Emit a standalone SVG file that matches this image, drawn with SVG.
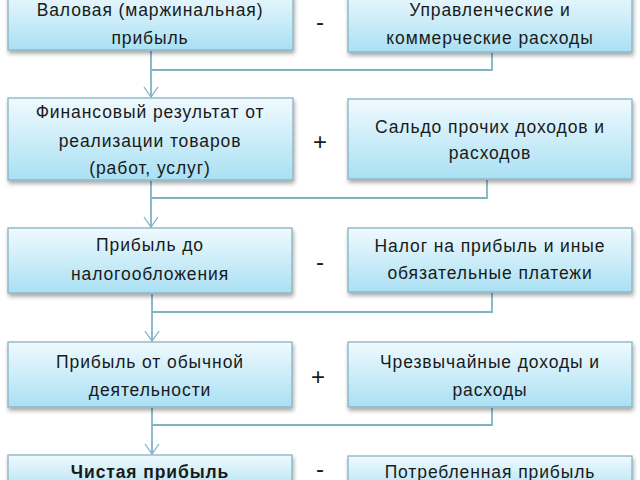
<svg xmlns="http://www.w3.org/2000/svg" width="640" height="480" viewBox="0 0 640 480">
<defs>
<linearGradient id="g" x1="0" y1="0" x2="0" y2="1">
<stop offset="0" stop-color="#f0fafe"/>
<stop offset="1" stop-color="#a9e0f3"/>
</linearGradient>
<filter id="sh" x="-10%" y="-10%" width="120%" height="140%">
<feGaussianBlur in="SourceAlpha" stdDeviation="2"/>
<feOffset dx="1" dy="3" result="b"/>
<feComponentTransfer><feFuncA type="linear" slope="0.35"/></feComponentTransfer>
<feMerge><feMergeNode/><feMergeNode in="SourceGraphic"/></feMerge>
</filter>
<marker id="ah" viewBox="0 0 16 12" refX="8" refY="11" markerWidth="16" markerHeight="12" markerUnits="userSpaceOnUse" orient="0">
<path d="M1,1 L8,11 L15,1" fill="none" stroke="#7fb3c4" stroke-width="1.3"/>
</marker>
</defs>
<style>
.box{fill:url(#g);stroke:#86b2c3;stroke-width:1.3;filter:url(#sh)}
.t{font-family:"Liberation Sans",Arial,sans-serif;font-size:17.5px;fill:#1a1a1a;text-anchor:middle;letter-spacing:0.9px}
.b{font-weight:bold}
.op{font-family:"Liberation Sans",Arial,sans-serif;font-size:24px;fill:#1a1a1a;text-anchor:middle}
.c{fill:none;stroke:#7fb3c4;stroke-width:1.8}
</style>
<rect width="640" height="480" fill="#ffffff"/>
<g id="connectors">
<path class="c" d="M151,51 V97" marker-end="url(#ah)"/>
<path class="c" d="M151,70 H492 V53"/>
<path class="c" d="M151,181 V227" marker-end="url(#ah)"/>
<path class="c" d="M151,198 H487 V180"/>
<path class="c" d="M152,294 V341" marker-end="url(#ah)"/>
<path class="c" d="M152,312 H492 V293"/>
<path class="c" d="M152,408 V454" marker-end="url(#ah)"/>
<path class="c" d="M152,425 H492 V408"/>
</g>
<g id="n1"><rect class="box" x="8" y="-12" width="285" height="62"/>
<text class="t" x="150" y="16">Валовая (маржинальная)</text>
<text class="t" x="150" y="44">прибыль</text></g>
<g id="n2"><rect class="box" x="348" y="-12" width="284" height="64"/>
<text class="t" x="490" y="16">Управленческие и</text>
<text class="t" x="490" y="44">коммерческие расходы</text></g>
<g id="n3"><rect class="box" x="8" y="98" width="285" height="82"/>
<text class="t" x="150" y="118">Финансовый результат от</text>
<text class="t" x="150" y="147">реализации товаров</text>
<text class="t" x="150" y="174">(работ, услуг)</text></g>
<g id="n4"><rect class="box" x="348" y="99" width="284" height="80"/>
<text class="t" x="490" y="133">Сальдо прочих доходов и</text>
<text class="t" x="490" y="159">расходов</text></g>
<g id="n5"><rect class="box" x="8" y="228" width="284" height="65"/>
<text class="t" x="150" y="251">Прибыль до</text>
<text class="t" x="150" y="280">налогообложения</text></g>
<g id="n6"><rect class="box" x="348" y="228" width="284" height="64"/>
<text class="t" x="490" y="252">Налог на прибыль и иные</text>
<text class="t" x="490" y="279">обязательные платежи</text></g>
<g id="n7"><rect class="box" x="8" y="342" width="284" height="65"/>
<text class="t" x="150" y="368">Прибыль от обычной</text>
<text class="t" x="150" y="396">деятельности</text></g>
<g id="n8"><rect class="box" x="348" y="342" width="284" height="65"/>
<text class="t" x="490" y="368">Чрезвычайные доходы и</text>
<text class="t" x="490" y="396">расходы</text></g>
<g id="n9"><rect class="box" x="8" y="455" width="284" height="40"/>
<text class="t b" x="150" y="478">Чистая прибыль</text></g>
<g id="n10"><rect class="box" x="348" y="456" width="284" height="40"/>
<text class="t" x="490" y="478">Потребленная прибыль</text></g>
<g id="ops">
<text class="op" x="320" y="30">-</text>
<text class="op" x="320" y="150">+</text>
<text class="op" x="320" y="270">-</text>
<text class="op" x="318" y="385">+</text>
<text class="op" x="320" y="477">-</text>
</g>
</svg>
